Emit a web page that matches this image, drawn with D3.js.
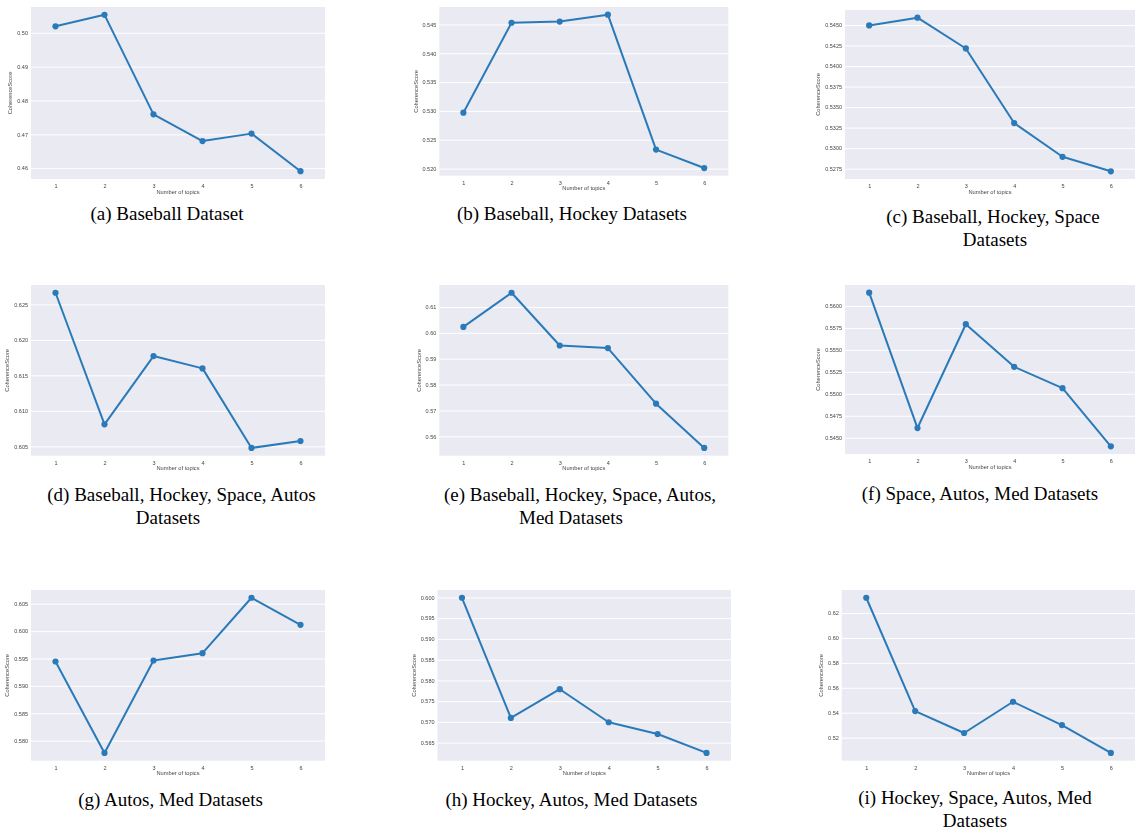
<!DOCTYPE html>
<html>
<head>
<meta charset="utf-8">
<script src="https://cdn.jsdelivr.net/npm/d3@7"></script>
<style>
  html, body { margin: 0; padding: 0; background: #ffffff; }
  svg { display: block; }
</style>
</head>
<body>
<svg id="fig" width="1135" height="833">
  <defs>
    <filter id="soft" x="-5%" y="-5%" width="110%" height="110%">
      <feGaussianBlur stdDeviation="0.35"/>
    </filter>
  </defs>
</svg>
<script>
// Number of topics on the x axis (shared by every panel)
const topics = [1, 2, 3, 4, 5, 6];

// Coherence scores per dataset combination
const scoresA = [0.5019, 0.5053, 0.4759, 0.4680, 0.4702, 0.4591];
const scoresB = [0.5297, 0.5453, 0.5455, 0.5467, 0.5233, 0.5201];
const scoresC = [0.54495, 0.54589, 0.54214, 0.53306, 0.52895, 0.52718];
const scoresD = [0.62664, 0.60810, 0.61772, 0.61598, 0.60477, 0.60575];
const scoresE = [0.6023, 0.6155, 0.5951, 0.5941, 0.5726, 0.5555];
const scoresF = [0.56151, 0.54610, 0.55792, 0.55307, 0.55064, 0.54402];
const scoresG = [0.59445, 0.57775, 0.59463, 0.59597, 0.60609, 0.60115];
const scoresH = [0.59992, 0.57096, 0.57788, 0.56992, 0.56708, 0.56252];
const scoresI = [0.63227, 0.54133, 0.52373, 0.54880, 0.53013, 0.50773];

// Y tick values per panel
const ticksA = [0.46, 0.47, 0.48, 0.49, 0.50];
const ticksB = [0.520, 0.525, 0.530, 0.535, 0.540, 0.545];
const ticksC = [0.5275, 0.5300, 0.5325, 0.5350, 0.5375, 0.5400, 0.5425, 0.5450];
const ticksD = [0.605, 0.610, 0.615, 0.620, 0.625];
const ticksE = [0.56, 0.57, 0.58, 0.59, 0.60, 0.61];
const ticksF = [0.5450, 0.5475, 0.5500, 0.5525, 0.5550, 0.5575, 0.5600];
const ticksG = [0.580, 0.585, 0.590, 0.595, 0.600, 0.605];
const ticksH = [0.565, 0.570, 0.575, 0.580, 0.585, 0.590, 0.595, 0.600];
const ticksI = [0.52, 0.54, 0.56, 0.58, 0.60, 0.62];

// Tick label formats (decimal places) per panel
const tickFormats = ["0.2f", "0.3f", "0.4f", "0.3f", "0.2f", "0.4f", "0.3f", "0.3f", "0.2f"];

// Sub-figure captions (one entry per line)
const captionsA = ["(a) Baseball Dataset"];
const captionsB = ["(b) Baseball, Hockey Datasets"];
const captionsC = ["(c) Baseball, Hockey, Space", "Datasets"];
const captionsD = ["(d) Baseball, Hockey, Space, Autos", "Datasets"];
const captionsE = ["(e) Baseball, Hockey, Space, Autos,", "Med Datasets"];
const captionsF = ["(f) Space, Autos, Med Datasets"];
const captionsG = ["(g) Autos, Med Datasets"];
const captionsH = ["(h) Hockey, Autos, Med Datasets"];
const captionsI = ["(i) Hockey, Space, Autos, Med", "Datasets"];

const xTitle = "Number of topics";
const yTitle = "CoherenceScore";

// Panel frames: plotting-area box, caption line centres and first baseline
const frames = [
  { x0: 31,    x1: 325,    y0: 7,   y1: 179,   cx: [167],        cy: 220 },
  { x0: 439.3, x1: 728.3,  y0: 7,   y1: 175.7, cx: [572],        cy: 220 },
  { x0: 845,   x1: 1135,   y0: 10,  y1: 179,   cx: [993, 995],   cy: 223 },
  { x0: 31,    x1: 325,    y0: 285, y1: 455.7, cx: [181.5, 168], cy: 501 },
  { x0: 439.3, x1: 728.3,  y0: 285, y1: 455.7, cx: [580, 571],   cy: 501 },
  { x0: 845,   x1: 1135,   y0: 285, y1: 454,   cx: [980],        cy: 500 },
  { x0: 31,    x1: 325,    y0: 590, y1: 760.7, cx: [170.5],      cy: 806 },
  { x0: 437.5, x1: 731,    y0: 590, y1: 760.7, cx: [571.5],      cy: 806 },
  { x0: 841.8, x1: 1135.3, y0: 590, y1: 760.7, cx: [975, 975],   cy: 804 }
];

const panels = [
  { scores: scoresA, ticks: ticksA, caption: captionsA },
  { scores: scoresB, ticks: ticksB, caption: captionsB },
  { scores: scoresC, ticks: ticksC, caption: captionsC },
  { scores: scoresD, ticks: ticksD, caption: captionsD },
  { scores: scoresE, ticks: ticksE, caption: captionsE },
  { scores: scoresF, ticks: ticksF, caption: captionsF },
  { scores: scoresG, ticks: ticksG, caption: captionsG },
  { scores: scoresH, ticks: ticksH, caption: captionsH },
  { scores: scoresI, ticks: ticksI, caption: captionsI }
];

const BLUE = "#2a7ab9";
const svg = d3.select("#fig");

panels.forEach((p, i) => {
  const f = frames[i];
  const g = svg.append("g").attr("class", "panel").attr("filter", "url(#soft)");

  const x = d3.scalePoint().domain(topics).range([f.x0, f.x1]).padding(0.5);
  const [lo, hi] = d3.extent(p.scores);
  const pad = (hi - lo) * 0.05;
  const y = d3.scaleLinear().domain([lo - pad, hi + pad]).range([f.y1, f.y0]);

  // plotting background
  g.append("rect")
    .attr("x", f.x0).attr("y", f.y0)
    .attr("width", f.x1 - f.x0).attr("height", f.y1 - f.y0)
    .attr("fill", "#eaeaf2");

  // y axis: white grid lines and tick labels
  const yAxis = d3.axisLeft(y)
    .tickValues(p.ticks)
    .tickFormat(d3.format(tickFormats[i]))
    .tickSize(-(f.x1 - f.x0))
    .tickPadding(3);
  const ya = g.append("g").attr("transform", `translate(${f.x0},0)`).call(yAxis);
  ya.select(".domain").remove();
  ya.selectAll(".tick line").attr("stroke", "#ffffff").attr("stroke-width", 1);
  ya.selectAll(".tick text")
    .attr("font-family", "'Liberation Sans', Arial, sans-serif")
    .attr("font-size", 5.5).attr("fill", "#444444");

  // x axis: tick labels only
  const xAxis = d3.axisBottom(x).tickSize(0).tickPadding(5);
  const xa = g.append("g").attr("transform", `translate(0,${f.y1})`).call(xAxis);
  xa.select(".domain").remove();
  xa.selectAll(".tick text")
    .attr("font-family", "'Liberation Sans', Arial, sans-serif")
    .attr("font-size", 5.5).attr("fill", "#444444");

  // axis titles
  g.append("text")
    .attr("x", (f.x0 + f.x1) / 2).attr("y", f.y1 + 14.5)
    .attr("text-anchor", "middle")
    .attr("font-family", "'Liberation Sans', Arial, sans-serif")
    .attr("font-size", 5.7).attr("fill", "#444444")
    .text(xTitle);

  let tw = 0;
  ya.selectAll(".tick text").each(function () { tw = Math.max(tw, this.getBBox().width); });
  const yx = f.x0 - 3 - tw - 5;
  g.append("text")
    .attr("transform", `translate(${yx},${(f.y0 + f.y1) / 2}) rotate(-90)`)
    .attr("text-anchor", "middle")
    .attr("font-family", "'Liberation Sans', Arial, sans-serif")
    .attr("font-size", 5.7).attr("fill", "#444444")
    .text(yTitle);

  // series line and markers
  const line = d3.line().x((d, k) => x(topics[k])).y(d => y(d));
  g.append("path")
    .datum(p.scores)
    .attr("d", line)
    .attr("fill", "none")
    .attr("stroke", BLUE)
    .attr("stroke-width", 2)
    .attr("stroke-linejoin", "round");
  g.selectAll("circle.pt")
    .data(p.scores)
    .join("circle")
    .attr("class", "pt")
    .attr("cx", (d, k) => x(topics[k]))
    .attr("cy", d => y(d))
    .attr("r", 3.1)
    .attr("fill", BLUE);

  // caption lines
  p.caption.forEach((ln, k) => {
    svg.append("text")
      .attr("x", f.cx[k]).attr("y", f.cy + k * 23)
      .attr("text-anchor", "middle")
      .attr("font-family", "'Liberation Serif', 'Times New Roman', serif")
      .attr("font-size", 19).attr("fill", "#000000")
      .text(ln);
  });
});
</script>
</body>
</html>
